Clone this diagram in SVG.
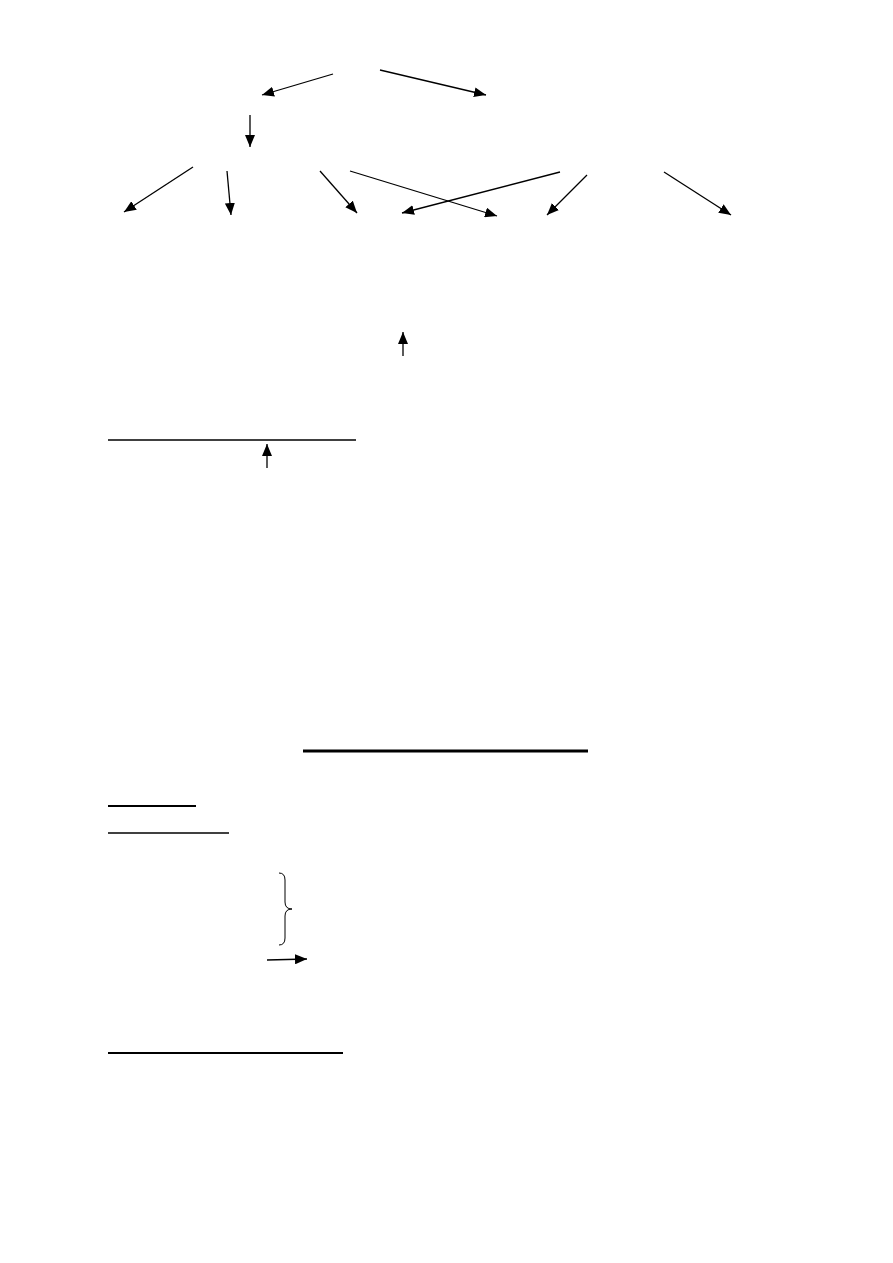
<svg xmlns="http://www.w3.org/2000/svg" width="893" height="1263" viewBox="0 0 893 1263">
<style>
.c{stroke:#000;stroke-width:1.3;fill:none}
.a{marker-end:url(#ah)}
</style>
<defs>
<marker id="ah" markerUnits="userSpaceOnUse" markerWidth="12" markerHeight="10" viewBox="0 0 12 10" refX="12" refY="5" orient="auto">
<path d="M0,0 L12,5 L0,10 Z" fill="#000"/>
</marker>
</defs>
<rect width="893" height="1263" fill="#fff"/>
<g id="connectors">
<line class="c a" x1="333" y1="74" x2="262" y2="95"/>
<line class="c a" x1="380" y1="70" x2="486" y2="95"/>
<line class="c a" x1="250" y1="115" x2="250" y2="147"/>
<line class="c a" x1="193" y1="167" x2="124" y2="212"/>
<line class="c a" x1="227" y1="171" x2="231" y2="215"/>
<line class="c a" x1="320" y1="171" x2="357" y2="213"/>
<line class="c a" x1="350" y1="171" x2="497" y2="216"/>
<line class="c a" x1="560" y1="172" x2="402" y2="213"/>
<line class="c a" x1="587" y1="175" x2="547" y2="215"/>
<line class="c a" x1="664" y1="172" x2="731" y2="215"/>
<line class="c a" x1="403" y1="356" x2="403" y2="332"/>
<line class="c a" x1="267" y1="468" x2="267" y2="444"/>
<line class="c a" x1="267" y1="960" x2="307" y2="959"/>
</g>
<g id="lines">
<line x1="108" y1="440" x2="356" y2="440" stroke="#000" stroke-width="1.3"/>
<line x1="303" y1="751" x2="588" y2="751" stroke="#000" stroke-width="3"/>
<line x1="108" y1="806" x2="196" y2="806" stroke="#000" stroke-width="2"/>
<line x1="108" y1="833" x2="229" y2="833" stroke="#000" stroke-width="1.3"/>
<line x1="108" y1="1053" x2="343" y2="1053" stroke="#000" stroke-width="2"/>
</g>
<g id="brace">
<path d="M279,873 Q285,873 285,880 L285,902 Q285,909 292,909 Q285,909 285,916 L285,938 Q285,945 279,945" fill="none" stroke="#000" stroke-width="1"/>
</g>
</svg>
